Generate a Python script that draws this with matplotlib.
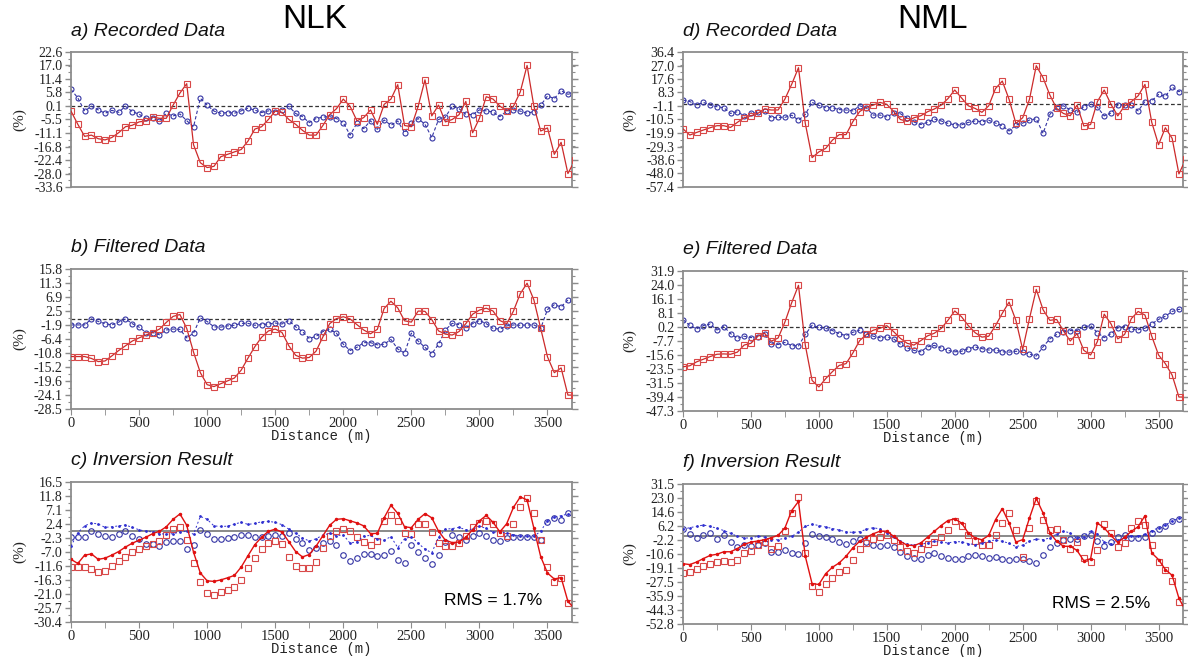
import numpy as np
import matplotlib
matplotlib.use('Agg')
import matplotlib.pyplot as plt
from matplotlib.ticker import FixedLocator

## sampling positions along the profile (m)
dist = np.arange(0, 3750, 50)

## NLK recorded data
nlk_rec_red = [-2, -7.5, -12.5, -12, -13.5, -14, -13, -11, -8.5, -7.9,
               -6.5, -6.1, -4.5, -5, -5, 0.5, 5.5, 9.4, -16, -23.5,
               -25.5, -25, -21, -20, -19, -18, -14.5, -9.5, -8.5, -5.5,
               -2, -2.5, -5.5, -7.5, -10, -12, -12, -8, -3.5, -1,
               3, 0, -6, -4.7, -1.5, -7.5, 0.8, 3, 9, -8,
               -8.5, 0, 11, -4, 0.5, -6.5, -5.5, -3.5, 2, -11,
               -5, 4, 3, 0.1, -1.9, 0, 6, 17, 0, -10.3,
               -9, -20, -15, -28, -22.5]
nlk_rec_blue = [7, 3.5, -2, 0, -1.5, -2.9, -1.7, -2.5, 0, -2.2,
                -3.3, -5, -5, -6, -3, -4, -3.2, -6, -8.5, 3.3,
                0.5, -2, -2.9, -2.6, -2.9, -1.9, -0.8, -1.6, -2.6, -1.9,
                -2.4, -1.6, 0, -3, -4.3, -6.8, -5.1, -4.5, -4.3, -5.1,
                -6.8, -12, -7, -9.3, -6, -9.6, -5.7, -7.9, -6.1, -11,
                -7, -5.1, -7.5, -13, -5.5, -4.5, 0, -1, -3.3, -3.5,
                -1.5, -1.9, -2.4, -4.3, -2, -1.5, -2, -2.9, -2.2, 0.4,
                4.3, 3.2, 6.5, 5, 5.7]

## NLK filtered data
nlk_filt_red = [-11.9, -11.9, -11.9, -12.5, -13.5, -13.3, -11.7, -10, -8.5, -7,
                -6, -5.1, -4.3, -3.2, -1.1, 0.8, 1.4, -3, -10.5, -17,
                -20.8, -21.4, -20.5, -19.6, -18.7, -16.2, -12.4, -8.8, -5.8, -3.8,
                -3.2, -4.3, -8.5, -11.5, -12.4, -12.2, -10.2, -5.7, -1.5, 0.1,
                0.7, 0, -1.8, -3.5, -4.7, -3.3, 3.3, 5.6, 3.5, -0.6,
                -1, 2.5, 2.4, -0.2, -3.8, -4.8, -5.1, -4, -1.5, 1.5,
                2.8, 3.4, 2.5, -0.5, -1.5, 2.5, 8, 11.3, 6, -3,
                -12, -17, -15.5, -24.1, -24.1]
nlk_filt_blue = [-1.9, -1.9, -1.9, 0, -0.8, -1.5, -1.9, -1, 0, -1.5,
                 -2.6, -4.3, -4.3, -5, -3.5, -3.2, -3.3, -6, -4.5, 0.3,
                 -0.8, -2.5, -2.6, -2.2, -2, -1.4, -1.4, -2, -1.8, -1.6,
                 -1.3, -1.6, -0.5, -2.5, -4, -6.2, -5.5, -4, -3.3, -4.5,
                 -8, -10, -9, -7.5, -7.5, -8.2, -8, -6.5, -9.5, -10.8,
                 -4.5, -7, -9, -11, -8, -3.5, -1.4, -1.8, -2.8, -1.5,
                 -0.5, -1.5, -3, -3.2, -2.2, -1.9, -2, -1.9, -1.9, -3,
                 3, 4.5, 3.8, 6, 5.3]

## NLK inversion result (model curves)
nlk_inv_red = [-9.4, -10.8, -8, -7.6, -9.4, -9, -8, -6.8, -5.3, -4,
               -3, -2, -0.8, 0, 1.5, 4, 5.8, 2, -7, -14,
               -16.6, -16.8, -16.3, -15.6, -14.8, -12, -8.2, -4.5, -2, 0,
               0.7, -0.3, -3.5, -6.8, -8.6, -7.8, -5, -1.5, 2, 4,
               4.2, 3.5, 2.8, 1.8, -0.8, -0.7, 4.5, 8.7, 6, 1.5,
               1.2, 4, 5.9, 4.5, 0, -3, -3.8, -3.6, -2, 0.5,
               3.5, 5.3, 3, -0.2, 2.5, 8, 11.5, 10.5, 1, -8.5,
               -14, -16, -15.5, -23.5, -26]
nlk_inv_blue = [-5, -0.5, 1.8, 2.8, 2.4, 1.3, 1.5, 1.8, 2.1, 1.3,
                0.5, 0, -0.2, -0.8, -1, -0.8, -0.3, 0, -1, 5,
                4, 1.8, 1.6, 1.7, 2.4, 3, 2.3, 2.6, 3.2, 3.3,
                3, 2.2, 0.7, -0.7, -2.2, -3.3, -2.5, -1.3, -0.7, -1.5,
                -1.2, -4, -3.5, -1.6, -1.4, -2.7, -3, -1.8, -5.5, -2.5,
                -1.8, -4, -6, -7.2, -2, 0.7, 0.9, 1.3, 0.5, 0.7,
                1.6, 1, -0.3, -0.2, -0.6, -1.2, -1.6, -1.6, -1.7, 0,
                3.6, 4.8, 5.2, 5.8, 5.3]

## NML recorded data
nml_rec_red = [-17, -21.3, -19.5, -17.8, -16.2, -14.8, -14.8, -16, -12.5, -9.3,
               -7.9, -6.3, -3.2, -3.9, -3.9, 3.7, 14, 25.5, -13.2, -37,
               -33, -30.6, -24.8, -21, -21, -12, -5, -2, -0.5, 1.4,
               0, -4.8, -10.5, -11.8, -9.3, -7.9, -5.1, -3.2, -0.5, 4,
               10, 4.5, -1, -2.8, -5.5, -1, 11, 16.2, 3.5, -13.2,
               -9.3, 3.5, 26.9, 18.5, 6.5, -2.8, -6.3, -7.9, -0.5, -15,
               -14, 2, 10, 0, -8, -1, 1.9, 6, 13.9, -12.5,
               -28, -16.2, -23.6, -48.3, -38]
nml_rec_blue = [3, 2, -0.5, 1.4, -0.5, -1.6, -2.3, -6.3, -5.1, -8,
                -6, -5.5, -4.5, -9.3, -9, -9, -7.5, -11, -7, 1.4,
                -0.7, -2.2, -2.3, -3.6, -3.9, -4.5, -1, -2.5, -7.4, -7.4,
                -8.6, -6.3, -6.5, -9.3, -12.3, -14, -12.5, -10.2, -11.5, -13.2,
                -14.2, -14.2, -12.5, -11.5, -12, -11, -13, -14.8, -18.5, -14.4,
                -13, -10.9, -10, -20.1, -7, -1.6, -1, -3.9, -5.5, -1.5,
                0.3, -2, -8, -6, -0.5, -0.6, -0.5, -4.5, 2, 2.5,
                6.9, 5.5, 12, 8.8, 11.6]

## NML filtered data
nml_filt_red = [-22.3, -21.7, -19.5, -18, -16.5, -15.2, -15, -15.2, -14, -10,
                -9, -5, -3.3, -7.8, -6, 3, 14, 23.8, -10, -30,
                -33.7, -29, -25, -21.5, -20.5, -14.5, -7.5, -4, -1.6, -0.5,
                1, -2.4, -6.2, -9, -10, -7.5, -4.8, -3.3, -0.6, 4,
                9.3, 6, 1, -3, -5.5, -5, 1, 8, 14.3, 4,
                -12.5, 5, 21.5, 10, 4, 4.5, -2, -7.7, -3.5, -13,
                -15.6, -8, 7.5, 2, -6.5, -4, 5, 9, 7, -5,
                -15.6, -20.5, -27, -39.4, -39.4]
nml_filt_blue = [4.4, 1.1, -0.8, 1, 1.9, -1.5, 0.5, -3.5, -6.2, -5,
                 -5.8, -5.3, -4, -9.2, -9.7, -8.5, -10.3, -10.5, -4, 1.2,
                 0, -0.5, -1.8, -3.6, -4.6, -2.8, -1.6, -3.6, -5, -5.8,
                 -5.3, -6.5, -9.5, -11.6, -13, -13.8, -11, -10.2, -11.7, -13,
                 -13.8, -13.5, -12, -11.1, -12, -12.8, -12.7, -13.8, -14, -13.5,
                 -13.8, -15.1, -16.2, -11, -6.5, -4, -2.4, -1.8, -1.8, 0.3,
                 1, -3, -5.8, -3.5, -0.3, 0.5, -1, -1.3, -0.5, 2,
                 4.5, 6.3, 9, 10.2, 10.2]

## NML inversion result (model curves)
nml_inv_red = [-16.5, -17, -15.5, -13.4, -11.5, -10.8, -9.3, -9.3, -7.4, -4.8,
               -3.5, -2.8, -2.1, -0.8, 0.6, 5, 15.5, 21, -12, -28.5,
               -29, -22.5, -18.6, -16, -12, -7, -3, -0.5, 1.5, 3.1,
               3.1, 0, -3.2, -5.3, -5.6, -4, -0.5, 3, 6.5, 9.5,
               10.5, 8, 2, -1, -2.1, 0.5, 10, 16.6, 8, -3.5,
               -2, 11, 22.8, 14, 2, -3, -6, -6, -8.5, -14.7,
               -13.5, 8, 5, 0.5, -3.7, -0.6, 3, 5.8, 12.4, -10,
               -14, -20, -23.5, -37.3, -45]
nml_inv_blue = [4.2, 5.2, 6, 6.8, 6, 4.8, 3.5, 1.8, 0, -1,
                -1, 0, -0.5, -2, -2.1, -1, 0, 2.5, 6, 7.3,
                6.5, 5.6, 4.7, 3.7, 2.8, 2.3, 2.8, 4.2, 5.2, 4.4,
                1.8, -0.7, -3, -4.8, -5.2, -5, -3.8, -3.1, -3.5, -4,
                -3.2, -3.3, -4.4, -5, -4.3, -2.8, -2.2, -3, -4.2, -6.2,
                -5.3, -3, -1.6, -2, -1, 1.3, 3, 2.1, -1.1, -0.2,
                3.3, 1.5, -3.5, -4.5, -2.5, -1, 0, -0.1, 1.5, 3.3,
                5.2, 6.7, 9.3, 10.8, 11.4]

## y tick labels of each panel (bottom to top)
yticks_a = [-33.6, -28.0, -22.4, -16.8, -11.1, -5.5, 0.1, 5.8, 11.4, 17.0, 22.6]
yticks_b = [-28.5, -24.1, -19.6, -15.2, -10.8, -6.4, -1.9, 2.5, 6.9, 11.3, 15.8]
yticks_c = [-30.4, -25.7, -21.0, -16.3, -11.6, -7.0, -2.3, 2.4, 7.1, 11.8, 16.5]
yticks_d = [-57.4, -48.0, -38.6, -29.3, -19.9, -10.5, -1.1, 8.3, 17.6, 27.0, 36.4]
yticks_e = [-47.3, -39.4, -31.5, -23.5, -15.6, -7.7, 0.2, 8.1, 16.1, 24.0, 31.9]
yticks_f = [-52.8, -44.3, -35.9, -27.5, -19.1, -10.6, -2.2, 6.2, 14.6, 23.0, 31.5]
xticks = [0, 500, 1000, 1500, 2000, 2500, 3000, 3500]

## colours
RED_MK = '#d84848'
RED_LN = '#cc2a2a'
RED_MOD = '#e01010'
BLUE_MK = '#3434a4'
BLUE_MOD = '#3030d0'
SPINE = '#8c8c8c'

NUM_FONT = 'Liberation Serif'


def style_axis(ax, yticks, xlabels=True):
    """grid-free GMT-like frame with ticks on both y sides"""
    ymin, ymax = yticks[0], yticks[-1]
    ax.set_xlim(0, 3680)
    ax.set_ylim(ymin, ymax)
    ax.yaxis.set_major_locator(FixedLocator(yticks))
    ax.yaxis.set_minor_locator(FixedLocator(np.linspace(ymin, ymax, 21)))
    ax.set_yticklabels(['%.1f' % t for t in yticks])
    for s in ax.spines.values():
        s.set_color(SPINE)
        s.set_linewidth(1.3)
    ax.tick_params(axis='y', which='both', left=True, right=True,
                   direction='out', color=SPINE, labelsize=10,
                   labelcolor='#222222', pad=2)
    ax.tick_params(axis='y', which='major', length=4, width=1)
    ax.tick_params(axis='y', which='minor', length=2.5, width=0.8)
    if xlabels:
        ax.xaxis.set_major_locator(FixedLocator(xticks))
        ax.xaxis.set_minor_locator(FixedLocator(np.arange(250, 3680, 500)))
        ax.tick_params(axis='x', which='both', direction='out', length=4,
                       color=SPINE, labelsize=10.5, labelcolor='#222222',
                       pad=2)
        ax.set_xlabel('Distance (m)', family='Liberation Mono', fontsize=10,
                      color='#222222', labelpad=-1)
    else:
        ax.set_xticks([])
    for lab in ax.get_xticklabels() + ax.get_yticklabels():
        lab.set_family(NUM_FONT)


def plot_data(ax, red, blue):
    """observed data: squares and circles joined by thin lines"""
    ax.axhline(0, color='#333333', lw=0.9, ls=(0, (3, 2)), zorder=1)
    ax.plot(dist, blue, color=BLUE_MK, lw=0.8, ls=(0, (3, 2)),
            marker='o', ms=3.6, mfc='none', mec=BLUE_MK, mew=0.8, zorder=2)
    ax.plot(dist, red, color=RED_LN, lw=0.9, marker='s', ms=4,
            mfc='none', mec=RED_MK, mew=0.8, zorder=3)


def plot_inversion(ax, red, blue, red_mod, blue_mod):
    """filtered data as bare markers, model as dotted lines"""
    ax.axhline(0, color='#808080', lw=1.3, zorder=1)
    ax.plot(dist, blue, ls='none', marker='o', ms=4, mfc='none',
            mec=BLUE_MK, mew=0.8, zorder=2)
    ax.plot(dist, red, ls='none', marker='s', ms=4.3, mfc='none',
            mec=RED_MK, mew=0.8, zorder=2)
    ax.plot(dist, blue_mod, color=BLUE_MOD, lw=0.7, ls=(0, (2, 2.5)),
            marker='.', ms=2, zorder=3)
    ax.plot(dist, red_mod, color=RED_MOD, lw=1.0, marker='.', ms=3,
            zorder=4)


fig = plt.figure(figsize=(11.88, 6.57), dpi=100)

W = 1188.0
H = 657.0


def add_axes(left, top, right, bottom):
    return fig.add_axes([left / W, 1 - bottom / H, (right - left) / W,
                         (bottom - top) / H])


ax_a = add_axes(71, 52, 572, 187)
ax_b = add_axes(71, 269, 572, 409)
ax_c = add_axes(71, 482, 572, 622)
ax_d = add_axes(683, 52, 1183, 187)
ax_e = add_axes(683, 271, 1183, 411)
ax_f = add_axes(683, 484, 1183, 624)

plot_data(ax_a, nlk_rec_red, nlk_rec_blue)
plot_data(ax_b, nlk_filt_red, nlk_filt_blue)
plot_inversion(ax_c, nlk_filt_red, nlk_filt_blue, nlk_inv_red, nlk_inv_blue)
plot_data(ax_d, nml_rec_red, nml_rec_blue)
plot_data(ax_e, nml_filt_red, nml_filt_blue)
plot_inversion(ax_f, nml_filt_red, nml_filt_blue, nml_inv_red, nml_inv_blue)

style_axis(ax_a, yticks_a, xlabels=False)
style_axis(ax_b, yticks_b)
style_axis(ax_c, yticks_c)
style_axis(ax_d, yticks_d, xlabels=False)
style_axis(ax_e, yticks_e)
style_axis(ax_f, yticks_f)

## panel titles
titles = [(ax_a, 'a) Recorded Data'), (ax_b, 'b) Filtered Data'),
          (ax_c, 'c) Inversion Result'), (ax_d, 'd) Recorded Data'),
          (ax_e, 'e) Filtered Data'), (ax_f, 'f) Inversion Result')]
for ax, t in titles:
    ax.text(0.0, 1.09, t, transform=ax.transAxes, ha='left', va='bottom',
            fontsize=14, style='italic', family='Liberation Sans',
            color='#111111')

## y labels
for ax, xpix in [(ax_a, 20), (ax_b, 20), (ax_c, 20),
                 (ax_d, 630), (ax_e, 630), (ax_f, 630)]:
    pos = ax.get_position()
    fig.text(xpix / W, pos.y0 + pos.height / 2, '(%)', rotation=90,
             ha='center', va='center', fontsize=11, family=NUM_FONT,
             color='#222222')

## station names
fig.text(315 / W, 1 - 20 / H, 'NLK', ha='center', va='center', fontsize=24,
         family='Liberation Sans')
fig.text(932 / W, 1 - 20 / H, 'NML', ha='center', va='center', fontsize=24,
         family='Liberation Sans')

## misfit
ax_c.text(0.94, 0.1, 'RMS = 1.7%', transform=ax_c.transAxes, ha='right',
          va='bottom', fontsize=12.5, family='Liberation Sans')
ax_f.text(0.935, 0.09, 'RMS = 2.5%', transform=ax_f.transAxes, ha='right',
          va='bottom', fontsize=12.5, family='Liberation Sans')

fig.savefig('out.png', dpi=100)
